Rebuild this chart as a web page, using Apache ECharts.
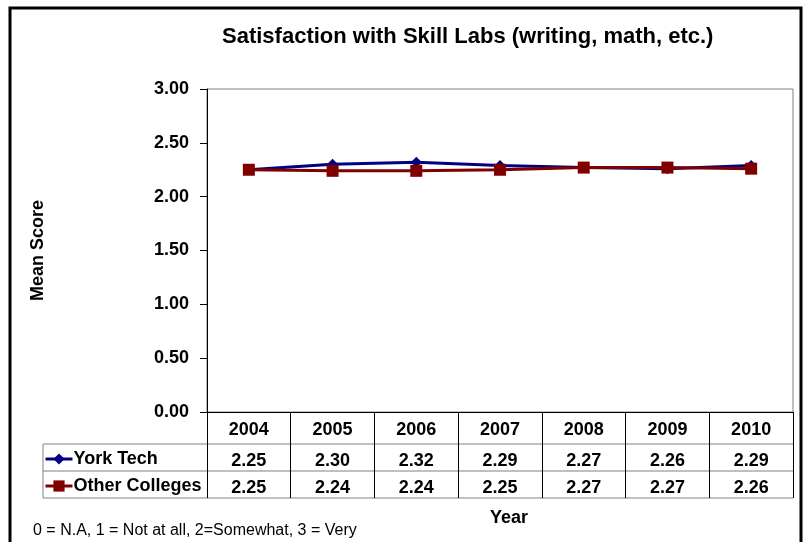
<!DOCTYPE html>
<html>
<head>
<meta charset="utf-8">
<script src="https://cdn.jsdelivr.net/npm/echarts@6/dist/echarts.min.js"></script>
<style>html,body{margin:0;padding:0;background:#fff}#c{width:806px;height:542px}</style>
</head>
<body>
<div id="c"></div>
<script>
const years = ['2004', '2005', '2006', '2007', '2008', '2009', '2010']
const yorkTech = [2.25, 2.30, 2.32, 2.29, 2.27, 2.26, 2.29]
const otherColleges = [2.25, 2.24, 2.24, 2.25, 2.27, 2.27, 2.26]
const yTicks = [0, 0.5, 1, 1.5, 2, 2.5, 3]

const FONT = '"Liberation Sans", Arial, sans-serif'
const NAVY = '#000080', MAROON = '#800000'

// plot box in pixels (table hangs under it)
const G = { left: 207, right: 13, top: 89, bottom: 130 }
const plotR = 806 - G.right, plotB = 542 - G.bottom
const rowH = [32, 27, 27]

const chart = echarts.init(document.getElementById('c'), null, { renderer: 'canvas' })
const bold = { color: '#000', fontFamily: FONT, fontWeight: 'bold', fontSize: 18 }

// table rows: one hidden category axis per row, labels = values
const rowAxis = (data, offset, extra) => Object.assign({
  type: 'category', data, position: 'bottom', offset,
  axisLine: { show: false }, axisTick: { show: false },
  axisLabel: { ...bold, margin: 8, interval: 0,
    formatter: v => Number(v).toFixed(2) },
}, extra || {})

const y1 = plotB + rowH[0], y2 = y1 + rowH[1], y3 = y2 + rowH[2]

chart.setOption({
  animation: false,
  title: [
    { text: 'Satisfaction with Skill Labs (writing, math, etc.)', left: 217, top: 21,
      textStyle: { fontFamily: FONT, fontWeight: 'bold', fontSize: 22, color: '#000' } },
    { text: '0 = N.A, 1 = Not at all, 2=Somewhat, 3 = Very', left: 28, top: 518,
      textStyle: { fontFamily: FONT, fontWeight: 'normal', fontSize: 16, color: '#000' } },
  ],
  legend: {
    orient: 'vertical', left: 39, top: plotB + rowH[0] + 1, itemGap: 9,
    itemWidth: 27, itemHeight: 14,
    lineStyle: { width: 3 },
    textStyle: { ...bold, padding: [0, 0, 0, -4] },
    data: ['York Tech', 'Other Colleges'],
  },
  grid: { ...G, show: true, borderColor: '#808080', borderWidth: 1 },
  xAxis: [
    { type: 'category', data: years, boundaryGap: true,
      axisLine: { lineStyle: { color: '#000', width: 1 } },
      axisTick: { show: true, alignWithLabel: false, length: rowH[0] + rowH[1] + rowH[2],
        lineStyle: { color: '#000' } },
      axisLabel: { ...bold, margin: 9, interval: 0 } },
    rowAxis(yorkTech, rowH[0]),
    rowAxis(otherColleges, rowH[0] + rowH[1], {
      name: 'Year', nameLocation: 'middle', nameGap: 38,
      nameTextStyle: { ...bold, padding: [0, 0, 0, 18] } }),
  ],
  yAxis: {
    type: 'value', min: 0, max: 3, interval: 0.5,
    name: 'Mean Score', nameLocation: 'middle', nameGap: 160, nameRotate: 90,
    nameTextStyle: { ...bold },
    axisLine: { show: true, lineStyle: { color: '#000' } },
    axisTick: { show: true, length: 7, lineStyle: { color: '#000' } },
    splitLine: { show: false },
    axisLabel: { ...bold, margin: 18, formatter: v => v.toFixed(2),
      customValues: yTicks },
  },
  series: [
    { name: 'York Tech', type: 'line', data: yorkTech,
      symbol: 'diamond', symbolSize: 11,
      lineStyle: { color: NAVY, width: 3 }, itemStyle: { color: NAVY } },
    { name: 'Other Colleges', type: 'line', data: otherColleges,
      symbol: 'rect', symbolSize: 12,
      lineStyle: { color: MAROON, width: 3 }, itemStyle: { color: MAROON } },
  ],
  graphic: [
    // outer chart border
    { type: 'rect', shape: { x: 10, y: 8, width: 791, height: 560 },
      style: { fill: 'none', stroke: '#000', lineWidth: 3 }, silent: true },
    // table frame
    { type: 'line', shape: { x1: 43, y1: y1, x2: plotR, y2: y1 },
      style: { stroke: '#808080', lineWidth: 1 } },
    { type: 'line', shape: { x1: 43, y1: y2, x2: plotR, y2: y2 },
      style: { stroke: '#808080', lineWidth: 1 } },
    { type: 'line', shape: { x1: 43, y1: y3, x2: plotR, y2: y3 },
      style: { stroke: '#808080', lineWidth: 1 } },
    { type: 'line', shape: { x1: 43, y1: y1, x2: 43, y2: y3 },
      style: { stroke: '#808080', lineWidth: 1 } },
  ],
})
</script>
</body>
</html>
